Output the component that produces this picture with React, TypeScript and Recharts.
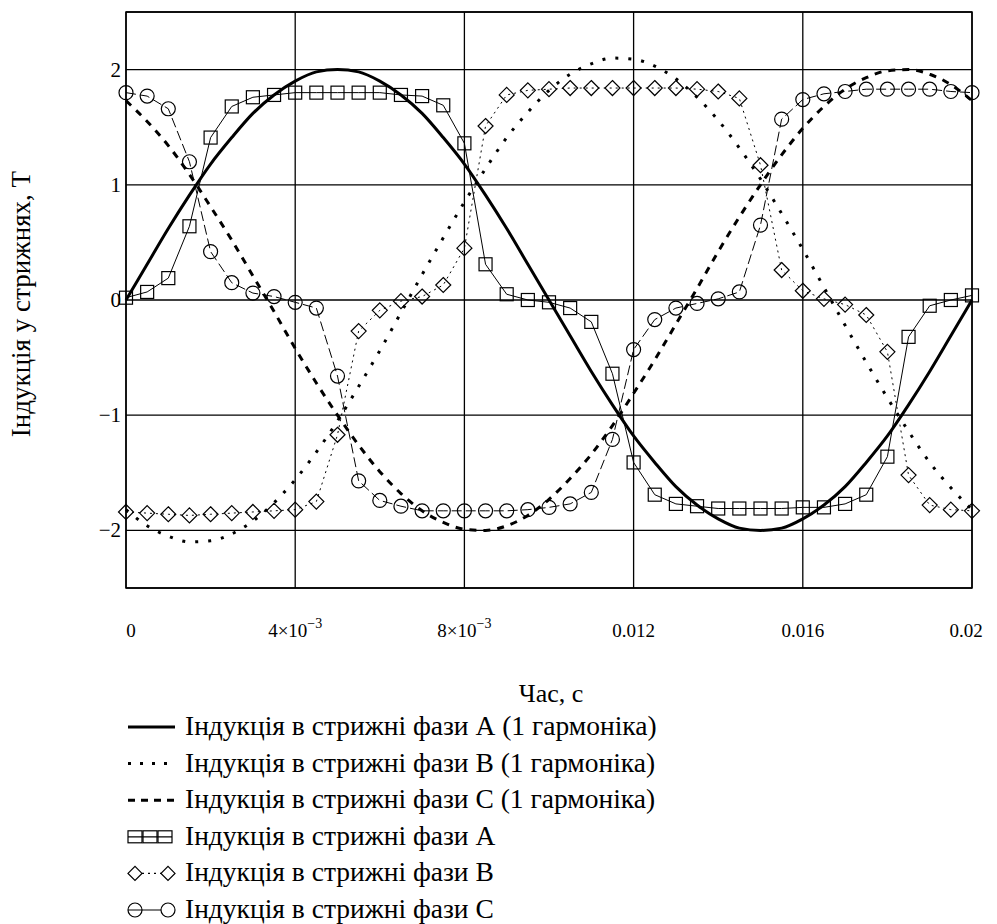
import React from "react";
import {
  LineChart,
  Line,
  XAxis,
  YAxis,
  CartesianGrid,
  ReferenceArea,
} from "recharts";

// time, s
const T = [
  0, 0.0005, 0.001, 0.0015, 0.002, 0.0025, 0.003, 0.0035, 0.004, 0.0045, 0.005,
  0.0055, 0.006, 0.0065, 0.007, 0.0075, 0.008, 0.0085, 0.009, 0.0095, 0.01,
  0.0105, 0.011, 0.0115, 0.012, 0.0125, 0.013, 0.0135, 0.014, 0.0145, 0.015,
  0.0155, 0.016, 0.0165, 0.017, 0.0175, 0.018, 0.0185, 0.019, 0.0195, 0.02,
];

// first harmonic, T
const A1 = [
  0, 0.31, 0.62, 0.91, 1.18, 1.41, 1.62, 1.78, 1.9, 1.98, 2.0, 1.98, 1.9, 1.78,
  1.62, 1.41, 1.18, 0.91, 0.62, 0.31, 0, -0.31, -0.62, -0.91, -1.18, -1.41,
  -1.62, -1.78, -1.9, -1.98, -2.0, -1.98, -1.9, -1.78, -1.62, -1.41, -1.18,
  -0.91, -0.62, -0.31, 0,
];
const B1 = [
  -1.82, -1.96, -2.05, -2.1, -2.09, -2.03, -1.92, -1.76, -1.56, -1.32, -1.05,
  -0.75, -0.44, -0.11, 0.22, 0.54, 0.85, 1.14, 1.41, 1.63, 1.82, 1.96, 2.05,
  2.1, 2.09, 2.03, 1.92, 1.76, 1.56, 1.32, 1.05, 0.75, 0.44, 0.11, -0.22,
  -0.54, -0.85, -1.14, -1.41, -1.63, -1.82,
];
const C1 = [
  1.73, 1.55, 1.34, 1.09, 0.81, 0.52, 0.21, -0.1, -0.42, -0.72, -1.0, -1.26,
  -1.49, -1.68, -1.83, -1.93, -1.99, -2.0, -1.96, -1.87, -1.73, -1.55, -1.34,
  -1.09, -0.81, -0.52, -0.21, 0.1, 0.42, 0.72, 1.0, 1.26, 1.49, 1.68, 1.83,
  1.93, 1.99, 2.0, 1.96, 1.87, 1.73,
];

// core induction with markers, T
const A = [
  0.02, 0.07, 0.19, 0.64, 1.41, 1.68, 1.76, 1.78, 1.8, 1.8, 1.8, 1.8, 1.8,
  1.78, 1.77, 1.69, 1.36, 0.31, 0.05, 0.0, -0.02, -0.07, -0.19, -0.64, -1.41,
  -1.69, -1.77, -1.79, -1.81, -1.81, -1.81, -1.81, -1.8, -1.8, -1.77, -1.69,
  -1.36, -0.32, -0.05, 0.0, 0.04,
];
const B = [
  -1.84, -1.85, -1.86, -1.87, -1.86, -1.85, -1.84, -1.83, -1.82, -1.75, -1.17,
  -0.27, -0.09, -0.01, 0.03, 0.13, 0.45, 1.51, 1.78, 1.82, 1.83, 1.84, 1.84,
  1.84, 1.84, 1.84, 1.84, 1.83, 1.81, 1.75, 1.17, 0.26, 0.08, 0.01, -0.04,
  -0.13, -0.45, -1.52, -1.78, -1.82, -1.83,
];
const C = [
  1.8, 1.77, 1.66, 1.2, 0.42, 0.15, 0.06, 0.03, -0.02, -0.07, -0.66, -1.57,
  -1.74, -1.79, -1.83, -1.83, -1.83, -1.83, -1.83, -1.82, -1.8, -1.77, -1.67,
  -1.21, -0.43, -0.17, -0.07, -0.03, 0.01, 0.07, 0.65, 1.57, 1.74, 1.79, 1.81,
  1.83, 1.83, 1.83, 1.83, 1.81, 1.8,
];

const X_TICKS = [0, 0.004, 0.008, 0.012, 0.016, 0.02];
const X_TICK_LABELS = [
  ["0", ""],
  ["4×10", "−3"],
  ["8×10", "−3"],
  ["0.012", ""],
  ["0.016", ""],
  ["0.02", ""],
];
const Y_TICKS = [-2, -1, 0, 1, 2];
const Y_TICK_LABELS = ["−2", "−1", "0", "1", "2"];

const LEGEND_LABELS = [
  "Індукція в стрижні фази А (1 гармоніка)",
  "Індукція в стрижні фази В (1 гармоніка)",
  "Індукція в стрижні фази С (1 гармоніка)",
  "Індукція в стрижні фази А",
  "Індукція в стрижні фази В",
  "Індукція в стрижні фази С",
];

const FONT = '"Liberation Serif", "Times New Roman", Times, "DejaVu Serif", serif';
const txt = { fontFamily: FONT };

const data = T.map((t, i) => ({
  t,
  a1: A1[i],
  b1: B1[i],
  c1: C1[i],
  a: A[i],
  b: B[i],
  c: C[i],
}));

const squareDot = (p: any) => (
  <rect
    key={`sq-${p.index}`}
    x={p.cx - 6.5}
    y={p.cy - 6.5}
    width={13}
    height={13}
    fill="none"
    stroke="#000"
    strokeWidth={1.2}
  />
);

const diamondDot = (p: any) => (
  <path
    key={`dm-${p.index}`}
    d={`M${p.cx},${p.cy - 7.5}L${p.cx + 7.5},${p.cy}L${p.cx},${p.cy + 7.5}L${p.cx - 7.5},${p.cy}Z`}
    fill="none"
    stroke="#000"
    strokeWidth={1.2}
  />
);

const circleDot = (p: any) => (
  <circle
    key={`ci-${p.index}`}
    cx={p.cx}
    cy={p.cy}
    r={7}
    fill="none"
    stroke="#000"
    strokeWidth={1.2}
  />
);

const XTick = (props: any) => {
  const { x, y, payload } = props;
  const idx = X_TICKS.indexOf(payload.value);
  const [base, exp] = X_TICK_LABELS[idx] || [String(payload.value), ""];
  // Mathcad keeps the end labels inside the frame
  const dx = idx === 0 ? 5 : idx === X_TICKS.length - 1 ? -6 : 0;
  return (
    <text
      x={x + dx}
      y={y + 41}
      textAnchor="middle"
      style={txt}
      fontSize={19}
      fill="#000"
    >
      {base}
      {exp ? (
        <tspan dy={-9} fontSize={14}>
          {exp}
        </tspan>
      ) : null}
    </text>
  );
};

const YTick = (props: any) => {
  const { x, y, payload } = props;
  const idx = Y_TICKS.indexOf(payload.value);
  return (
    <text
      x={x + 3}
      y={y + 7}
      textAnchor="end"
      style={txt}
      fontSize={21}
      fill="#000"
    >
      {Y_TICK_LABELS[idx]}
    </text>
  );
};

function Legend() {
  const rows = LEGEND_LABELS.map((label, i) => {
    const yc = 27 + 36.6 * i;
    let sym: React.ReactNode = null;
    if (i === 0) {
      sym = <line x1={128} x2={175} y1={yc} y2={yc} stroke="#000" strokeWidth={3} />;
    } else if (i === 1) {
      sym = (
        <line x1={128} x2={175} y1={yc} y2={yc} stroke="#000" strokeWidth={3} strokeDasharray="3 9" />
      );
    } else if (i === 2) {
      sym = (
        <line x1={128} x2={175} y1={yc} y2={yc} stroke="#000" strokeWidth={3} strokeDasharray="7 6" />
      );
    } else if (i === 3) {
      sym = (
        <g fill="none" stroke="#000" strokeWidth={1.2}>
          <line x1={128} x2={172} y1={yc} y2={yc} />
          <rect x={128} y={yc - 6} width={14} height={12} />
          <rect x={143} y={yc - 6} width={14} height={12} />
          <rect x={158} y={yc - 6} width={14} height={12} />
        </g>
      );
    } else if (i === 4) {
      sym = (
        <g fill="none" stroke="#000" strokeWidth={1.2}>
          <path d={`M128,${yc}L135,${yc - 7}L142,${yc}L135,${yc + 7}Z`} />
          <line x1={142} x2={161} y1={yc} y2={yc} strokeDasharray="2 4" />
          <path d={`M161,${yc}L168,${yc - 7}L175,${yc}L168,${yc + 7}Z`} />
        </g>
      );
    } else {
      sym = (
        <g fill="none" stroke="#000" strokeWidth={1.2}>
          <circle cx={135} cy={yc} r={7} />
          <line x1={128} x2={161} y1={yc} y2={yc} />
          <circle cx={168} cy={yc} r={7} />
        </g>
      );
    }
    return (
      <g key={label}>
        {sym}
        <text x={185} y={yc + 8} style={txt} fontSize={27.5} fill="#000">
          {label}
        </text>
      </g>
    );
  });
  return (
    <svg
      width={760}
      height={224}
      style={{ position: "absolute", left: 0, top: 700 }}
    >
      {rows}
    </svg>
  );
}

export default function App() {
  return (
    <div
      style={{
        position: "absolute",
        left: 0,
        top: 0,
        width: 997,
        height: 924,
        background: "#fff",
      }}
    >
      <div style={{ position: "absolute", left: 0, top: 0 }}>
        <LineChart
          width={997}
          height={720}
          data={data}
          margin={{ top: 12, right: 25, left: 0, bottom: 0 }}
        >
          <CartesianGrid stroke="#000" strokeWidth={1.3} />
          <XAxis
            type="number"
            dataKey="t"
            domain={[0, 0.02]}
            ticks={X_TICKS}
            height={132}
            axisLine={false}
            tickLine={false}
            interval={0}
            tick={<XTick />}
            label={() => (
              <text
                x={551}
                y={702}
                textAnchor="middle"
                style={txt}
                fontSize={26}
                fill="#000"
              >
                Час, с
              </text>
            )}
          />
          <YAxis
            type="number"
            domain={[-2.5, 2.5]}
            ticks={Y_TICKS}
            width={126}
            axisLine={false}
            tickLine={false}
            interval={0}
            tick={<YTick />}
            label={() => (
              <text
                x={30}
                y={304}
                transform="rotate(-90, 30, 304)"
                textAnchor="middle"
                style={txt}
                fontSize={27}
                fill="#000"
              >
                Індукція у стрижнях, Т
              </text>
            )}
          />
          <ReferenceArea
            x1={0}
            x2={0.02}
            y1={-2.5}
            y2={2.5}
            fill="none"
            fillOpacity={0}
            stroke="#000"
            strokeWidth={1.5}
          />
          <Line
            type="monotone"
            dataKey="a1"
            stroke="#000"
            strokeWidth={3}
            dot={false}
            isAnimationActive={false}
          />
          <Line
            type="monotone"
            dataKey="b1"
            stroke="#000"
            strokeWidth={3}
            strokeDasharray="3 10"
            dot={false}
            isAnimationActive={false}
          />
          <Line
            type="monotone"
            dataKey="c1"
            stroke="#000"
            strokeWidth={3}
            strokeDasharray="7 7"
            dot={false}
            isAnimationActive={false}
          />
          <Line
            type="linear"
            dataKey="a"
            stroke="#000"
            strokeWidth={1}
            dot={squareDot}
            isAnimationActive={false}
          />
          <Line
            type="linear"
            dataKey="b"
            stroke="#000"
            strokeWidth={1}
            strokeDasharray="2 4"
            dot={diamondDot}
            isAnimationActive={false}
          />
          <Line
            type="linear"
            dataKey="c"
            stroke="#000"
            strokeWidth={1}
            strokeDasharray="10 4"
            dot={circleDot}
            isAnimationActive={false}
          />
        </LineChart>
      </div>
      <Legend />
    </div>
  );
}
